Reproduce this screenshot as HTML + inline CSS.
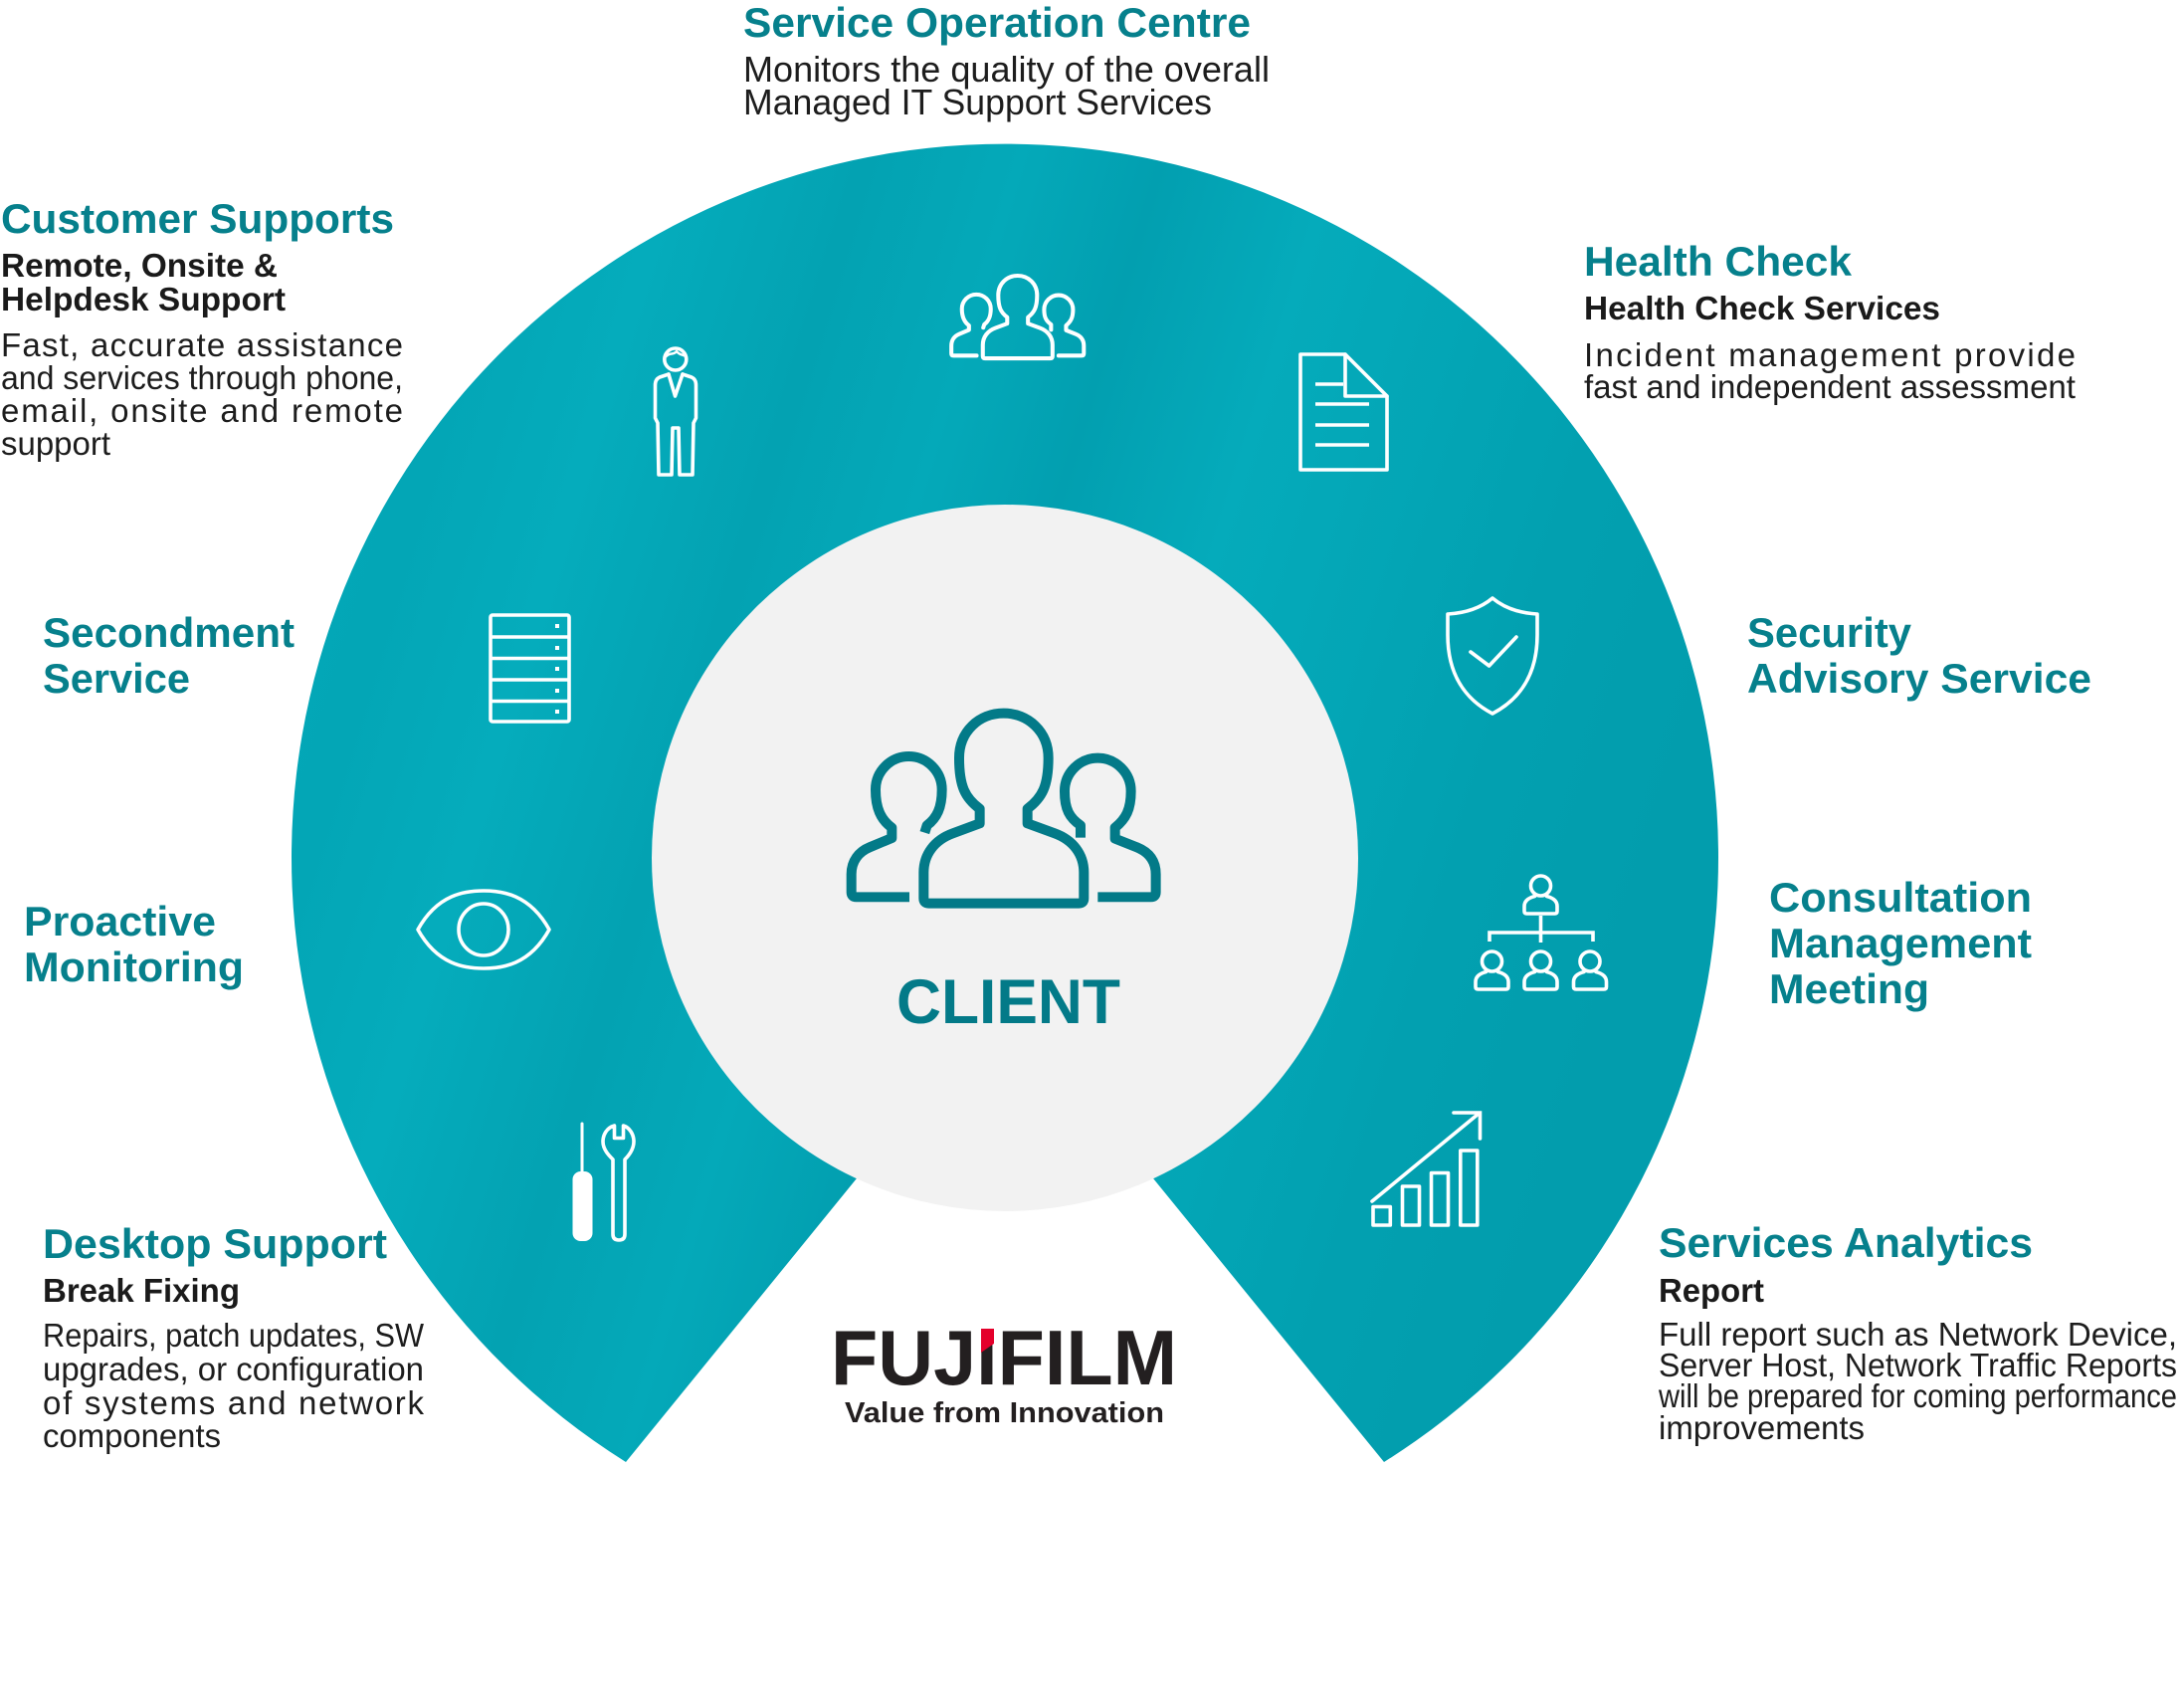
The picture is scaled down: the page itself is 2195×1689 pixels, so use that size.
<!DOCTYPE html>
<html>
<head>
<meta charset="utf-8">
<style>
  html,body{margin:0;padding:0;background:#fff;}
  body{width:2195px;height:1689px;overflow:hidden;}
  svg{display:block;}
  text{font-family:"Liberation Sans", Arial, sans-serif;}
  .t{font-size:42px;font-weight:bold;fill:#06808c;}
  .s{font-size:33px;font-weight:bold;fill:#1a1a1a;}
  .b{font-size:33px;fill:#1d1d1d;}
  .b36{font-size:36px;fill:#1d1d1d;}
</style>
</head>
<body>
<svg width="2195" height="1689" viewBox="0 0 2195 1689" xmlns="http://www.w3.org/2000/svg">
  <defs>
    <linearGradient id="rg" gradientUnits="userSpaceOnUse" x1="290" y1="200" x2="1730" y2="640">
      <stop offset="0" stop-color="#04aaba"/>
      <stop offset="0.14" stop-color="#03a6b6"/>
      <stop offset="0.24" stop-color="#05acbc"/>
      <stop offset="0.36" stop-color="#03a2b2"/>
      <stop offset="0.46" stop-color="#04a9b9"/>
      <stop offset="0.55" stop-color="#029fb0"/>
      <stop offset="0.66" stop-color="#05abbb"/>
      <stop offset="0.78" stop-color="#03a5b5"/>
      <stop offset="0.88" stop-color="#02a0b0"/>
      <stop offset="1" stop-color="#029dad"/>
    </linearGradient>
  </defs>

  <!-- Ring -->
  <path d="M629,1469 A717,717 0 1 1 1391,1469 L1159,1184 L861,1184 Z" fill="url(#rg)"/>
  <!-- Inner grey circle -->
  <circle cx="1010" cy="862" r="355" fill="#f2f2f2"/>

  <!-- Client icon -->
  <g transform="translate(830,690) scale(0.3333)" fill="none" stroke="#037a88" stroke-width="30" stroke-linejoin="round">
    <path d="M464,412 L464,368 C420,335 402,300 402,215 C402,135 462,80 536,80 C610,80 671,135 671,215 C671,300 652,335 608,368 L608,412 L690,442 C745,462 778,505 778,560 L778,638 Q778,653 763,653 L310,653 Q295,653 295,638 L295,560 C295,505 328,462 383,442 Z"/>
    <path d="M252,634 L92,634 Q77,634 77,619 L77,565 C77,525 100,497 132,484 L199,456 L199,425 C165,400 150,365 150,310 C150,255 195,210 250,210 C305,210 350,255 350,310 C350,365 335,395 305,418 L298,440"/>
    <path d="M768,455 L768,418 C735,395 720,370 720,315 C720,260 765,215 820,215 C875,215 920,260 920,315 C920,370 905,398 872,425 L872,458 L938,484 C975,499 995,525 995,565 L995,619 Q995,634 980,634 L820,634"/>
  </g>
  <text x="901" y="1028" font-size="63" font-weight="bold" fill="#037a88" textLength="225" lengthAdjust="spacingAndGlyphs">CLIENT</text>

  <!-- White icons -->
  <g fill="none" stroke="#ffffff" stroke-width="3.6" stroke-linejoin="round" stroke-linecap="round">
    <!-- top group -->
    <g transform="translate(945,265.4) scale(0.145)" stroke-width="28">
      <path d="M464,412 L464,368 C420,335 402,300 402,215 C402,135 462,80 536,80 C610,80 671,135 671,215 C671,300 652,335 608,368 L608,412 L690,442 C745,462 778,505 778,560 L778,638 Q778,653 763,653 L310,653 Q295,653 295,638 L295,560 C295,505 328,462 383,442 Z"/>
      <path d="M252,634 L92,634 Q77,634 77,619 L77,565 C77,525 100,497 132,484 L199,456 L199,425 C165,400 150,365 150,310 C150,255 195,210 250,210 C305,210 350,255 350,310 C350,365 335,395 305,418 L298,440"/>
      <path d="M768,455 L768,418 C735,395 720,370 720,315 C720,260 765,215 820,215 C875,215 920,260 920,315 C920,370 905,398 872,425 L872,458 L938,484 C975,499 995,525 995,565 L995,619 Q995,634 980,634 L820,634"/>
    </g>

    <!-- standing person -->
    <circle cx="678.8" cy="361" r="11"/>
    <path d="M669.5,358 C673,354 677,357 680,353 C683,357 686,356 689,358" stroke-width="2.5"/>
    <path d="M672,376 L663,379 Q658.5,381 658.5,387 L658.5,420 L661,425 L662,477 L675,477 L676,430 L682,430 L683,477 L696,477 L697,425 L699.5,420 L699.5,387 Q699.5,381 695,379 L686,376"/>
    <path d="M672,376 L678.5,398 L686,376"/>

    <!-- document -->
    <path d="M1307,356 L1352,356 L1394,398 L1394,472 L1307,472 Z"/>
    <path d="M1352,356 L1352,398 L1394,398"/>
    <path d="M1322,386 L1350,386 M1322,406 L1376,406 M1322,427 L1376,427 M1322,447 L1376,447" stroke-linecap="butt"/>

    <!-- shield -->
    <path d="M1500,601 C1488,611 1473,616 1455,617 L1455,638 C1455,678 1473,703 1500,717 C1527,703 1545,678 1545,638 L1545,617 C1527,616 1512,611 1500,601 Z"/>
    <path d="M1478,655 L1496.6,669 L1524,640"/>

    <!-- server -->
    <rect x="493" y="618" width="79" height="107" rx="2"/>
    <path d="M493,640 L572,640 M493,661.5 L572,661.5 M493,683 L572,683 M493,704.5 L572,704.5" stroke-linecap="butt"/>

    <!-- eye -->
    <path d="M420,934 C440,898 468,895 486,895 C504,895 532,898 552,934 C532,970 504,973 486,973 C468,973 440,970 420,934 Z"/>
    <ellipse cx="486" cy="934" rx="25" ry="26"/>

    <!-- org chart -->
    <g transform="translate(1530,878)">
      <circle cx="18.5" cy="12" r="10"/>
      <path d="M12.5,22.5 C5,24.5 2,28 2,32.5 L2,37.5 Q2,40 4.5,40 L32.5,40 Q35,40 35,37.5 L35,32.5 C35,28 32,24.5 24.5,22.5"/>
    </g>
    <g transform="translate(1481,954)">
      <circle cx="18.5" cy="12" r="10"/>
      <path d="M12.5,22.5 C5,24.5 2,28 2,32.5 L2,37.5 Q2,40 4.5,40 L32.5,40 Q35,40 35,37.5 L35,32.5 C35,28 32,24.5 24.5,22.5"/>
    </g>
    <g transform="translate(1530,954)">
      <circle cx="18.5" cy="12" r="10"/>
      <path d="M12.5,22.5 C5,24.5 2,28 2,32.5 L2,37.5 Q2,40 4.5,40 L32.5,40 Q35,40 35,37.5 L35,32.5 C35,28 32,24.5 24.5,22.5"/>
    </g>
    <g transform="translate(1579.5,954)">
      <circle cx="18.5" cy="12" r="10"/>
      <path d="M12.5,22.5 C5,24.5 2,28 2,32.5 L2,37.5 Q2,40 4.5,40 L32.5,40 Q35,40 35,37.5 L35,32.5 C35,28 32,24.5 24.5,22.5"/>
    </g>
    <path d="M1548.5,920 L1548.5,947 M1497,946 L1497,937 L1601,937 L1601,946" stroke-linecap="butt" stroke-linejoin="miter"/>

    <!-- bar chart -->
    <rect x="1380" y="1212.5" width="17.3" height="18.5"/>
    <rect x="1409.5" y="1192" width="17" height="39"/>
    <rect x="1438.5" y="1178.5" width="17" height="52.5"/>
    <rect x="1467.8" y="1156" width="17" height="75"/>
    <path d="M1379,1207 L1486,1119"/>
    <path d="M1461,1118 L1487.5,1118 L1487.5,1144" stroke-linejoin="miter"/>

    <!-- tools -->
    <path d="M585,1129 L585,1180" stroke-width="3"/>
    <path d="M617.5,1131 L617.5,1143.5 L626.5,1143.5 L626.5,1131 C633,1133 637,1140 637,1147 C637,1155 632,1161 628,1165 L628,1240 Q628,1246 622,1246 Q616,1246 616,1240 L616,1165 C612,1161 606,1155 606,1147 C606,1140 610,1133 617.5,1131 Z"/>
  </g>
  <rect x="575.5" y="1177" width="20" height="70" rx="8" fill="#ffffff"/>
  <!-- server dots -->
  <g fill="#ffffff">
    <rect x="558" y="627" width="4" height="4"/>
    <rect x="558" y="649" width="4" height="4"/>
    <rect x="558" y="670" width="4" height="4"/>
    <rect x="558" y="692" width="4" height="4"/>
    <rect x="558" y="713" width="4" height="4"/>
  </g>

  <!-- FUJIFILM logo -->
  <text x="835" y="1391" font-size="78" font-weight="bold" fill="#231f20" textLength="348" lengthAdjust="spacingAndGlyphs">FUJIFILM</text>
  <polygon points="986,1335 999,1335 999,1350 986,1359" fill="#e4002b"/>
  <text x="849" y="1429" font-size="29" font-weight="bold" fill="#231f20" textLength="321" lengthAdjust="spacingAndGlyphs">Value from Innovation</text>

  <!-- Top: Service Operation Centre -->
  <text class="t" x="747" y="37" textLength="510" lengthAdjust="spacingAndGlyphs">Service Operation Centre</text>
  <text class="b36" x="747" y="82" textLength="529" lengthAdjust="spacingAndGlyphs">Monitors the quality of the overall</text>
  <text class="b36" x="747" y="115" textLength="471" lengthAdjust="spacingAndGlyphs">Managed IT Support Services</text>

  <!-- Customer Supports -->
  <text class="t" x="1" y="234" textLength="395" lengthAdjust="spacingAndGlyphs">Customer Supports</text>
  <text class="s" x="1" y="278" textLength="278" lengthAdjust="spacingAndGlyphs">Remote, Onsite &amp;</text>
  <text class="s" x="1" y="312" textLength="286" lengthAdjust="spacingAndGlyphs">Helpdesk Support</text>
  <text class="b" x="1" y="358" textLength="404" lengthAdjust="spacing">Fast, accurate assistance</text>
  <text class="b" x="1" y="391" textLength="404" lengthAdjust="spacingAndGlyphs">and services through phone,</text>
  <text class="b" x="1" y="424" textLength="404" lengthAdjust="spacing">email, onsite and remote</text>
  <text class="b" x="1" y="457" textLength="110" lengthAdjust="spacingAndGlyphs">support</text>

  <!-- Health Check -->
  <text class="t" x="1592" y="277" textLength="269" lengthAdjust="spacingAndGlyphs">Health Check</text>
  <text class="s" x="1592" y="321" textLength="358" lengthAdjust="spacingAndGlyphs">Health Check Services</text>
  <text class="b" x="1592" y="368" textLength="494" lengthAdjust="spacing">Incident management provide</text>
  <text class="b" x="1592" y="400" textLength="494" lengthAdjust="spacingAndGlyphs">fast and independent assessment</text>

  <!-- Secondment Service -->
  <text class="t" x="43" y="650" textLength="253" lengthAdjust="spacingAndGlyphs">Secondment</text>
  <text class="t" x="43" y="696" textLength="148" lengthAdjust="spacingAndGlyphs">Service</text>

  <!-- Security Advisory Service -->
  <text class="t" x="1756" y="650" textLength="165" lengthAdjust="spacingAndGlyphs">Security</text>
  <text class="t" x="1756" y="696" textLength="346" lengthAdjust="spacingAndGlyphs">Advisory Service</text>

  <!-- Proactive Monitoring -->
  <text class="t" x="24" y="940" textLength="193" lengthAdjust="spacingAndGlyphs">Proactive</text>
  <text class="t" x="24" y="986" textLength="221" lengthAdjust="spacingAndGlyphs">Monitoring</text>

  <!-- Consultation Management Meeting -->
  <text class="t" x="1778" y="916" textLength="264" lengthAdjust="spacingAndGlyphs">Consultation</text>
  <text class="t" x="1778" y="962" textLength="264" lengthAdjust="spacingAndGlyphs">Management</text>
  <text class="t" x="1778" y="1008" textLength="161" lengthAdjust="spacingAndGlyphs">Meeting</text>

  <!-- Desktop Support -->
  <text class="t" x="43" y="1264" textLength="346" lengthAdjust="spacingAndGlyphs">Desktop Support</text>
  <text class="s" x="43" y="1308" textLength="198" lengthAdjust="spacing">Break Fixing</text>
  <text class="b" x="43" y="1353" textLength="383" lengthAdjust="spacingAndGlyphs">Repairs, patch updates, SW</text>
  <text class="b" x="43" y="1387" textLength="383" lengthAdjust="spacingAndGlyphs">upgrades, or configuration</text>
  <text class="b" x="43" y="1421" textLength="383" lengthAdjust="spacing">of systems and network</text>
  <text class="b" x="43" y="1454" textLength="179" lengthAdjust="spacingAndGlyphs">components</text>

  <!-- Services Analytics -->
  <text class="t" x="1667" y="1263" textLength="376" lengthAdjust="spacingAndGlyphs">Services Analytics</text>
  <text class="s" x="1667" y="1308" textLength="106" lengthAdjust="spacingAndGlyphs">Report</text>
  <text class="b" x="1667" y="1352" textLength="521" lengthAdjust="spacingAndGlyphs">Full report such as Network Device,</text>
  <text class="b" x="1667" y="1383" textLength="521" lengthAdjust="spacingAndGlyphs">Server Host, Network Traffic Reports</text>
  <text class="b" x="1667" y="1414" textLength="521" lengthAdjust="spacingAndGlyphs">will be prepared for coming performance</text>
  <text class="b" x="1667" y="1446" textLength="207" lengthAdjust="spacingAndGlyphs">improvements</text>
</svg>
</body>
</html>
